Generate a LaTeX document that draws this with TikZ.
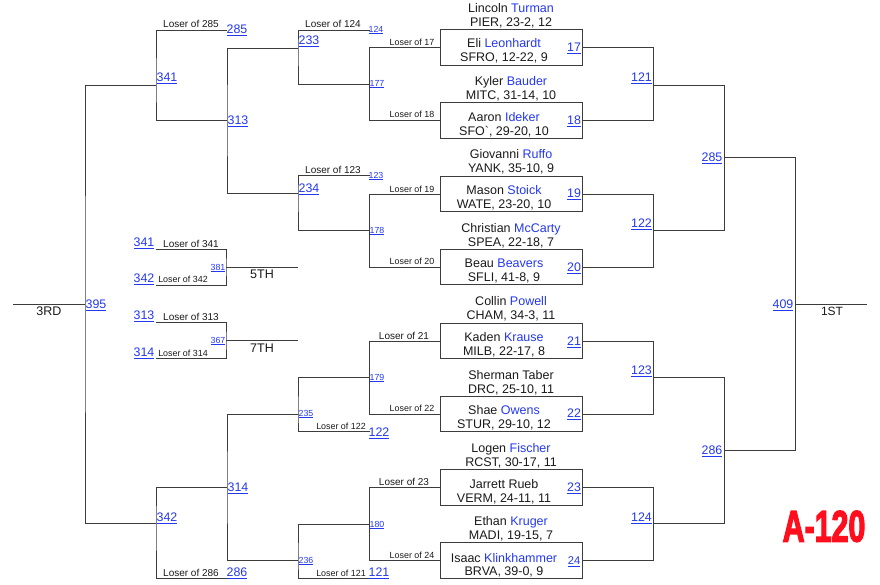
\documentclass[tikz,border=0pt]{standalone}
\usepackage{fontspec}
\setmainfont{Liberation Sans}
\newfontfamily\impactish[FakeBold=3.4]{Liberation Sans Bold}
\definecolor{lnk}{HTML}{2438F0}
\definecolor{ln}{HTML}{3C3C3C}
\definecolor{ink}{HTML}{1A1A1A}
\definecolor{stamp}{HTML}{FF0F1E}
\newcommand\Ln[1]{\textcolor{lnk}{#1}}
\newcommand\Lk[1]{\textcolor{lnk}{\underline{#1}}}
% name, x, y, text
\newcommand\NumB[4]{\node[num] (#1) at (#2,#3) {\Lk{#4}};}
\newcommand\NumS[4]{\node[snum] (#1) at (#2,#3) {\Lk{#4}};}
\newcommand\LosA[4]{\node[lose] (#1) at (#2,#3) {#4};}
\newcommand\LosB[4]{\node[slose] (#1) at (#2,#3) {#4};}
\newcommand\Ply[4]{\node[ply] (#1) at (#2,#3) {#4};}
\newcommand\Brk[3]{\draw[wire] (#1) -| (#2) |- (#3);}
\tikzset{
  wire/.style={draw=ln,line width=0.95pt,line join=miter},
  num/.style={anchor=base,inner sep=0pt,yshift=-4.4pt,font=\fontsize{12.4}{14}\selectfont},
  snum/.style={anchor=base,inner sep=0pt,yshift=-3.1pt,font=\fontsize{8.8}{10}\selectfont},
  lose/.style={anchor=base,inner sep=0pt,yshift=-3.6pt,text=ink,font=\fontsize{10}{12}\selectfont},
  slose/.style={anchor=base,inner sep=0pt,yshift=-3.2pt,text=ink,font=\fontsize{8.9}{10}\selectfont},
  ply/.style={anchor=base,inner sep=0pt,yshift=-4.4pt,text=ink,font=\fontsize{12.5}{14}\selectfont},
  seat/.style={wire,rectangle,minimum width=142pt,minimum height=35.5pt,inner sep=0pt,outer sep=0pt}
}
\begin{document}
\begin{tikzpicture}[x=1pt,y=-1pt]
\useasboundingbox (0,0) rectangle (880,584);
% seat boxes
\node[seat] (s17) at (511,47.5) {};
\node[seat] (s18) at (511,120.5) {};
\node[seat] (s19) at (511,194) {};
\node[seat] (s20) at (511,267) {};
\node[seat] (s21) at (511,341) {};
\node[seat] (s22) at (511,414) {};
\node[seat] (s23) at (511,487.7) {};
\node[seat] (s24) at (511,560.7) {};
% junctions right
\coordinate (j121) at (653,85);
\coordinate (j122) at (653,230);
\coordinate (j123) at (653,377.7);
\coordinate (j124) at (653,523.7);
\coordinate (j285) at (724,157);
\coordinate (j286) at (724,450.5);
\coordinate (j409) at (795,304);
\coordinate (first) at (867,304);
% junctions left
\coordinate (third) at (13,304);
\coordinate (j395) at (85,304);
\coordinate (j341) at (156,85);
\coordinate (j342) at (156,523.7);
\coordinate (e285) at (227,30);
\coordinate (j313) at (227,120);
\coordinate (j314) at (227,487.5);
\coordinate (e286) at (227,578.5);
\coordinate (j233) at (298,48);
\coordinate (j234) at (298,193.5);
\coordinate (j235) at (298,414.7);
\coordinate (j236) at (298,560.7);
\coordinate (e124) at (369.5,30);
\coordinate (j177) at (369.5,84);
\coordinate (e123) at (369.5,175.7);
\coordinate (j178) at (369.5,230);
\coordinate (j179) at (369.5,377.7);
\coordinate (e122) at (369.5,431.7);
\coordinate (j180) at (369.5,524.5);
\coordinate (e121) at (369.5,578.5);
% consolation
\coordinate (a341) at (156,249.5);
\coordinate (a342) at (156,285);
\coordinate (j381) at (226,267);
\coordinate (e5) at (298,267);
\coordinate (a313) at (156,322.7);
\coordinate (a314) at (156,358.7);
\coordinate (j367) at (226,340.7);
\coordinate (e7) at (298,340.7);
% connectors, right
\Brk{s17.east}{j121}{s18.east}
\Brk{s19.east}{j122}{s20.east}
\Brk{s21.east}{j123}{s22.east}
\Brk{s23.east}{j124}{s24.east}
\Brk{j121}{j285}{j122}
\Brk{j123}{j286}{j124}
\Brk{j285}{j409}{j286}
\draw[wire] (j409) -- (first);
% connectors, left
\Brk{j341}{j395}{j342}
\draw[wire] (j395) -- (third);
\Brk{e285}{j341}{j313}
\Brk{j233}{j313}{j234}
\Brk{e124}{j233}{j177}
\Brk{s17.west}{j177}{s18.west}
\Brk{e123}{j234}{j178}
\Brk{s19.west}{j178}{s20.west}
\Brk{j314}{j342}{e286}
\Brk{j235}{j314}{j236}
\Brk{j179}{j235}{e122}
\Brk{s21.west}{j179}{s22.west}
\Brk{j180}{j236}{e121}
\Brk{s23.west}{j180}{s24.west}
\Brk{a341}{j381}{a342}
\draw[wire] (j381) -- (e5);
\Brk{a313}{j367}{a314}
\draw[wire] (j367) -- (e7);
% players
\Ply{p1}{511}{8}{Lincoln \Ln{Turman}}
\Ply{p1b}{511}{22}{PIER, 23-2, 12}
\Ply{p2}{504}{43}{Eli \Ln{Leonhardt}}
\Ply{p2b}{504}{57}{SFRO, 12-22, 9}
\Ply{p3}{511}{81}{Kyler \Ln{Bauder}}
\Ply{p3b}{511}{95}{MITC, 31-14, 10}
\Ply{p4}{504}{117}{Aaron \Ln{Ideker}}
\Ply{p4b}{504}{131}{SFO\textasciigrave, 29-20, 10}
\Ply{p5}{511}{154}{Giovanni \Ln{Ruffo}}
\Ply{p5b}{511}{168}{YANK, 35-10, 9}
\Ply{p6}{504}{190}{Mason \Ln{Stoick}}
\Ply{p6b}{504}{204}{WATE, 23-20, 10}
\Ply{p7}{511}{228}{Christian \Ln{McCarty}}
\Ply{p7b}{511}{242}{SPEA, 22-18, 7}
\Ply{p8}{504}{263}{Beau \Ln{Beavers}}
\Ply{p8b}{504}{277}{SFLI, 41-8, 9}
\Ply{p9}{511}{301}{Collin \Ln{Powell}}
\Ply{p9b}{511}{315}{CHAM, 34-3, 11}
\Ply{p10}{504}{337}{Kaden \Ln{Krause}}
\Ply{p10b}{504}{351}{MILB, 22-17, 8}
\Ply{p11}{511}{375}{Sherman Taber}
\Ply{p11b}{511}{389}{DRC, 25-10, 11}
\Ply{p12}{504}{410}{Shae \Ln{Owens}}
\Ply{p12b}{504}{424}{STUR, 29-10, 12}
\Ply{p13}{511}{448}{Logen \Ln{Fischer}}
\Ply{p13b}{511}{462}{RCST, 30-17, 11}
\Ply{p14}{504}{484}{Jarrett Rueb}
\Ply{p14b}{504}{498}{VERM, 24-11, 11}
\Ply{p15}{511}{521}{Ethan \Ln{Kruger}}
\Ply{p15b}{511}{535}{MADI, 19-15, 7}
\Ply{p16}{504}{558}{Isaac \Ln{Klinkhammer}}
\Ply{p16b}{504}{571}{BRVA, 39-0, 9}
% seat numbers
\NumB{n17}{574}{47}{17}
\NumB{n18}{574}{120}{18}
\NumB{n19}{574}{193.5}{19}
\NumB{n20}{574}{267}{20}
\NumB{n21}{574}{341}{21}
\NumB{n22}{574}{413}{22}
\NumB{n23}{574}{487}{23}
\node[num,font=\fontsize{11.2}{13}\selectfont] (n24) at (574,560) {\Lk{24}};
\NumB{n121}{641.5}{77}{121}
\NumB{n122}{641.5}{223}{122}
\NumB{n123}{641.5}{370}{123}
\NumB{n124}{641.5}{517}{124}
\NumB{n285}{712}{157}{285}
\NumB{n286}{712}{450}{286}
\NumB{n409}{783}{304}{409}
\NumB{n395}{96}{304}{395}
\NumB{n341}{167}{77}{341}
\NumB{n342}{167}{517}{342}
\NumB{n313}{238}{120}{313}
\NumB{n314}{238}{487}{314}
\NumB{n233}{309}{40}{233}
\NumB{n234}{309}{188}{234}
\NumB{n285b}{237}{29}{285}
\NumB{n286b}{237}{572}{286}
\NumB{n122b}{379}{432}{122}
\NumB{n121b}{379}{572}{121}
\NumB{c341}{144}{242}{341}
\NumB{c342}{144}{278}{342}
\NumB{c313}{144}{315}{313}
\NumB{c314}{144}{352}{314}
\NumS{n124b}{376}{29}{124}
\NumS{n123b}{376}{175}{123}
\NumS{n177}{377}{83}{177}
\NumS{n178}{377}{230}{178}
\NumS{n179}{377}{377}{179}
\NumS{n180}{377}{524}{180}
\NumS{n235}{306}{413}{235}
\NumS{n236}{306}{560}{236}
\NumS{n381}{218}{267}{381}
\NumS{n367}{218}{340}{367}
% loser labels
\LosA{l285}{191}{24}{Loser of 285}
\LosA{l286}{191}{573}{Loser of 286}
\LosA{l124}{333}{24}{Loser of 124}
\LosA{l123}{333}{170}{Loser of 123}
\LosA{l341}{191}{244}{Loser of 341}
\LosA{l313}{191}{317}{Loser of 313}
\LosA{l21}{404}{336}{Loser of 21}
\LosA{l23}{404}{482}{Loser of 23}
\LosB{l17}{412}{42.5}{Loser of 17}
\LosB{l18}{412}{114}{Loser of 18}
\LosB{l19}{412}{189}{Loser of 19}
\LosB{l20}{412}{261}{Loser of 20}
\LosB{l22}{412}{408}{Loser of 22}
\LosB{l24}{412}{555}{Loser of 24}
\LosB{l342}{183}{279}{Loser of 342}
\LosB{l314}{183}{353}{Loser of 314}
\LosB{l122}{341}{426}{Loser of 122}
\LosB{l121}{341}{573}{Loser of 121}
% placings
\Ply{t5}{262}{274}{5TH}
\Ply{t7}{262}{348}{7TH}
\Ply{t3}{49}{311}{3RD}
\node[ply,font=\fontsize{12}{14}\selectfont] (t1) at (832,311) {1ST};
% stamp
\node[anchor=base,inner sep=0pt,text=stamp,xscale=0.69,font=\fontsize{44}{50}\impactish] (stamp) at (824,541.5) {A-120};
\end{tikzpicture}
\end{document}
